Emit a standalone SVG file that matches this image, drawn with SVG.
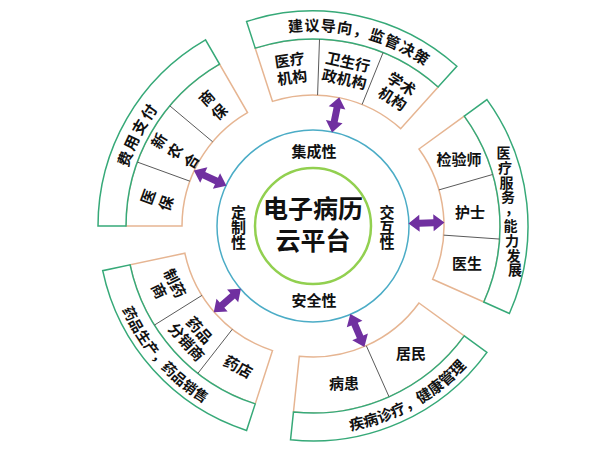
<svg xmlns="http://www.w3.org/2000/svg" xmlns:xlink="http://www.w3.org/1999/xlink" width="595" height="450" viewBox="0 0 595 450">
<style>
.cell{fill:#fff;stroke:#E6B592;stroke-width:1.5}
.band{fill:#fff;stroke:#36A978;stroke-width:1.5}
.div{stroke:#5a5a5a;stroke-width:1;fill:none}
.t{font-family:"Noto Sans CJK SC","Noto Sans",sans-serif;font-weight:700;fill:#111;text-anchor:middle}
.s15{font-size:15px}
.s14{font-size:14px}
.arr{fill:#7030A0}
</style>
<defs>
<path id="dbl" d="M -18 0 L -7 -8.5 L -7 -3.5 L 7 -3.5 L 7 -8.5 L 18 0 L 7 8.5 L 7 3.5 L -7 3.5 L -7 8.5 Z"/>
<path id="pTop" d="M 259.25 38.55 A 195 195 0 0 1 448.47 85.73"/>
<path id="pBR" d="M 309.37 433.97 A 208 208 0 0 0 491.30 333.12"/>
<path id="pBL" d="M 108.82 265.69 A 208 208 0 0 0 245.28 422.66"/>
<path id="pLeft" d="M 119.18 234.46 A 194 194 0 0 1 208.76 62.38"/>
</defs>
<rect width="595" height="450" fill="#fff"/>

<g id="sector-top">
<path class="cell" d="M 272.52 101.41 L 255.22 48.14 A 187 187 0 0 1 438.12 87.04 L 400.65 128.65 A 131 131 0 0 0 272.52 101.41 Z"/>
<path class="band" d="M 255.22 48.14 L 246.56 21.51 A 215 215 0 0 1 456.86 66.23 L 438.12 87.04 A 187 187 0 0 0 255.22 48.14 Z"/>
<path class="div" d="M 317.57 95.08 L 319.53 39.11 M 362.07 104.54 L 383.05 52.61"/>
<text class="t s15"><textPath href="#pTop" startOffset="50%" letter-spacing="1">建议导向，监管决策</textPath></text>
<text class="t s15" transform="translate(290.87,68.54) rotate(-8)"><tspan x="0" y="-3">医疗</tspan><tspan x="0" y="14.5">机构</tspan></text>
<text class="t s15" transform="translate(346.06,70.48) rotate(12)"><tspan x="0" y="-3">卫生行</tspan><tspan x="0" y="14.5">政机构</tspan></text>
<text class="t s15" transform="translate(397.25,91.17) rotate(32)"><tspan x="0" y="-3">学术</tspan><tspan x="0" y="14.5">机构</tspan></text>
</g>

<g id="sector-right">
<path class="cell" d="M 418.98 149.00 L 464.28 116.08 A 187 187 0 0 1 483.82 302.05 L 432.67 279.28 A 131 131 0 0 0 418.98 149.00 Z"/>
<path class="band" d="M 464.28 116.08 L 486.94 99.62 A 215 215 0 0 1 509.40 313.44 L 483.82 302.05 A 187 187 0 0 0 464.28 116.08 Z"/>
<path class="div" d="M 438.93 189.90 L 492.76 174.46 M 443.69 235.14 L 499.55 239.05"/>
<text class="t s14" x="503.5 505 506.5 508 512 510.5 512 513.5 515" y="158.3 172.9 187.5 202.1 214 231.3 245.9 260.5 275.1">医疗服务，能力发展</text>
<text class="t s15" x="459" y="165">检验师</text>
<text class="t s15" x="470" y="218">护士</text>
<text class="t s15" x="467" y="269">医生</text>
</g>

<g id="sector-bottom-right">
<path class="cell" d="M 418.98 303.00 L 464.28 335.92 A 187 187 0 0 1 293.46 411.97 L 299.31 356.28 A 131 131 0 0 0 418.98 303.00 Z"/>
<path class="band" d="M 464.28 335.92 L 486.94 352.38 A 215 215 0 0 1 290.53 439.82 L 293.46 411.97 A 187 187 0 0 0 464.28 335.92 Z"/>
<path class="div" d="M 366.28 345.67 L 389.05 396.82"/>
<text class="t s15"><textPath href="#pBR" startOffset="50%">疾病诊疗，健康管理</textPath></text>
<text class="t s15" x="411" y="359">居民</text>
<text class="t s15" x="344" y="389">病患</text>
</g>

<g id="sector-bottom-left">
<path class="cell" d="M 272.52 350.59 L 255.22 403.86 A 187 187 0 0 1 130.10 264.88 L 184.87 253.23 A 131 131 0 0 0 272.52 350.59 Z"/>
<path class="band" d="M 255.22 403.86 L 246.56 430.49 A 215 215 0 0 1 102.71 270.70 L 130.10 264.88 A 187 187 0 0 0 255.22 403.86 Z"/>
<path class="div" d="M 232.34 329.23 L 197.86 373.36 M 201.91 295.42 L 154.42 325.09"/>
<text class="t s14"><textPath href="#pBL" startOffset="50%">药品生产，药品销售</textPath></text>
<text class="t s15" transform="translate(167,287) rotate(64)"><tspan x="0" y="-3">制药</tspan><tspan x="0" y="14.5">商</tspan></text>
<text class="t s15" transform="translate(193,336) rotate(48)"><tspan x="0" y="-3">药品</tspan><tspan x="0" y="14.5">分销商</tspan></text>
<text class="t s15" transform="translate(238,367) rotate(28)"><tspan x="0" y="5.5">药店</tspan></text>
</g>

<g id="sector-left">
<path class="cell" d="M 182 226 L 126 226 A 187 187 0 0 1 219.5 64.06 L 247.5 112.55 A 131 131 0 0 0 182 226 Z"/>
<path class="band" d="M 126 226 L 98 226 A 215 215 0 0 1 205.5 39.81 L 219.5 64.06 A 187 187 0 0 0 126 226 Z"/>
<path class="div" d="M 189.90 181.20 L 137.28 162.05 M 212.65 141.79 L 169.76 105.80"/>
<text class="t s15"><textPath href="#pLeft" startOffset="50%" letter-spacing="2">费用支付</textPath></text>
<text class="t s15" transform="translate(157,200) rotate(-70)"><tspan x="0" y="-3.8">医</tspan><tspan x="0" y="15.2">保</tspan></text>
<text class="t s15" transform="translate(175,151) rotate(-58)"><tspan x="0" y="-13.3">新</tspan><tspan x="0" y="5.7">农</tspan><tspan x="0" y="24.7">合</tspan></text>
<text class="t s15" transform="translate(213,105) rotate(-42)"><tspan x="0" y="-3.8">商</tspan><tspan x="0" y="15.2">保</tspan></text>
</g>

<g id="platform">
<circle cx="313" cy="226" r="96" fill="#fff" stroke="#4BACC6" stroke-width="1.5"/>
<circle cx="313" cy="226" r="58" fill="#fff" stroke="#92D050" stroke-width="2.5"/>
<text class="t" font-size="25" x="313" y="218">电子病历</text>
<text class="t" font-size="25" x="313" y="250">云平台</text>
<text class="t s15" x="314" y="157">集成性</text>
<text class="t s15" x="314" y="306">安全性</text>
<text class="t s15" x="238.5 238.5 238.5" y="217.5 232.5 247.5">定制性</text>
<text class="t s15" x="387 387 387" y="217.5 232.5 247.5">交互性</text>
</g>

<g id="connectors" class="arr">
<use href="#dbl" transform="translate(335.63,114.78) rotate(-78.5)"/>
<use href="#dbl" transform="translate(426.46,223.03) rotate(-1.5)"/>
<use href="#dbl" transform="translate(357.35,330.48) rotate(67)"/>
<use href="#dbl" transform="translate(227.34,300.47) rotate(139)"/>
<use href="#dbl" transform="translate(210.13,178.03) rotate(205)"/>
</g>
</svg>
